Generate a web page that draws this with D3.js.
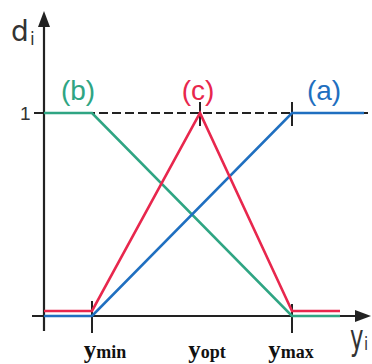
<!DOCTYPE html>
<html>
<head>
<meta charset="utf-8">
<script src="https://cdn.jsdelivr.net/npm/d3@7"></script>
<style>
  body { margin: 0; background: #fff; }
  svg { display: block; }
</style>
</head>
<body>
<svg id="chart"></svg>
<script>
// Wünschbarkeitsfunktionen d_i(y_i): (a) steigend, (b) fallend, (c) Optimum

const tickNames  = ["min", "opt", "max"];
const tickValues = [0, 0.54, 1];

const curveA = { x: [-0.24, 0, 1, 1.36], d: [0, 0, 1, 1] };
const curveB = { x: [-0.24, 0, 1, 1.24], d: [1, 1, 0, 0] };
const curveC = { x: [-0.24, 0, 0.54, 1, 1.24], d: [0.025, 0.025, 1, 0.025, 0.025] };

const width = 372, height = 364;

const svg = d3.select("#chart")
  .attr("width", width)
  .attr("height", height);

const x = d3.scaleLinear().domain([0, 1]).range([92, 292]);
const y = d3.scaleLinear().domain([0, 1]).range([316, 113]);

const colA = "#1f6fc0", colB = "#2fa583", colC = "#e8274d";

// Achsen
svg.append("line")
  .attr("x1", x(-0.24)).attr("x2", x(-0.24))
  .attr("y1", 331).attr("y2", 22)
  .attr("stroke", "#222").attr("stroke-width", 2.2);
svg.append("path")
  .attr("d", `M${x(-0.24)},11 L${x(-0.24) - 6},27 L${x(-0.24) + 6},27 Z`)
  .attr("fill", "#222");

svg.append("line")
  .attr("x1", 32).attr("x2", 360)
  .attr("y1", y(0)).attr("y2", y(0))
  .attr("stroke", "#222").attr("stroke-width", 2.2);
svg.append("path")
  .attr("d", `M371,${y(0)} L355,${y(0) - 6} L355,${y(0) + 6} Z`)
  .attr("fill", "#222");

// gestrichelte Linie bei d = 1
svg.append("line")
  .attr("x1", 34).attr("x2", 370)
  .attr("y1", y(1)).attr("y2", y(1))
  .attr("stroke", "#222").attr("stroke-width", 2)
  .attr("stroke-dasharray", "9,4");

// Ticks
svg.append("line")
  .attr("x1", x(0)).attr("x2", x(0)).attr("y1", 301).attr("y2", 333)
  .attr("stroke", "#222").attr("stroke-width", 2);
svg.append("line")
  .attr("x1", x(1)).attr("x2", x(1)).attr("y1", 304).attr("y2", 333)
  .attr("stroke", "#222").attr("stroke-width", 2);
svg.append("line")
  .attr("x1", x(0.54)).attr("x2", x(0.54)).attr("y1", 102).attr("y2", 126)
  .attr("stroke", "#222").attr("stroke-width", 2);
svg.append("line")
  .attr("x1", x(1)).attr("x2", x(1)).attr("y1", 102).attr("y2", 126)
  .attr("stroke", "#222").attr("stroke-width", 2);

// Kurven
const line = d3.line().x(p => x(p[0])).y(p => y(p[1]));
[[curveB, colB], [curveA, colA], [curveC, colC]].forEach(([c, col]) => {
  svg.append("path")
    .attr("d", line(d3.zip(c.x, c.d)))
    .attr("fill", "none")
    .attr("stroke", col)
    .attr("stroke-width", 2.6)
    .attr("stroke-linejoin", "miter");
});

// Beschriftungen
const sans = "DejaVu Sans, Liberation Sans, sans-serif";
svg.append("text").attr("x", 11).attr("y", 41)
  .attr("font-family", sans).attr("font-size", 28).attr("fill", "#333").text("d");
svg.append("text").attr("x", 30).attr("y", 45)
  .attr("font-family", sans).attr("font-size", 17).attr("fill", "#333").text("i");
svg.append("text").attr("x", 20).attr("y", 120)
  .attr("font-family", "Liberation Sans, sans-serif").attr("font-size", 19).attr("fill", "#333").text("1");
svg.append("text")
  .attr("transform", "translate(350,350) scale(0.95,1.45)")
  .attr("font-family", sans).attr("font-size", 24).attr("fill", "#333").text("y");
svg.append("text")
  .attr("transform", "translate(364,350) scale(1,1.2)")
  .attr("font-family", sans).attr("font-size", 15).attr("fill", "#333").text("i");

[["(b)", 78, colB], ["(c)", 198, colC], ["(a)", 324, colA]].forEach(([t, px, col]) => {
  svg.append("text")
    .attr("x", px).attr("y", 100)
    .attr("text-anchor", "middle")
    .attr("font-family", "Liberation Sans, sans-serif").attr("font-size", 28)
    .attr("fill", col).text(t);
});

const tl = svg.selectAll("text.tick")
  .data(tickValues)
  .join("text")
  .attr("class", "tick")
  .attr("x", (d, i) => x(d) + [13, 7, -1][i])
  .attr("y", 358)
  .attr("text-anchor", "middle")
  .attr("font-family", "Liberation Serif, Times New Roman, serif")
  .attr("font-weight", "bold")
  .attr("fill", "#111");
tl.append("tspan").attr("font-size", 25).text("y");
tl.append("tspan").attr("font-size", 18).text((d, i) => tickNames[i]);
</script>
</body>
</html>
